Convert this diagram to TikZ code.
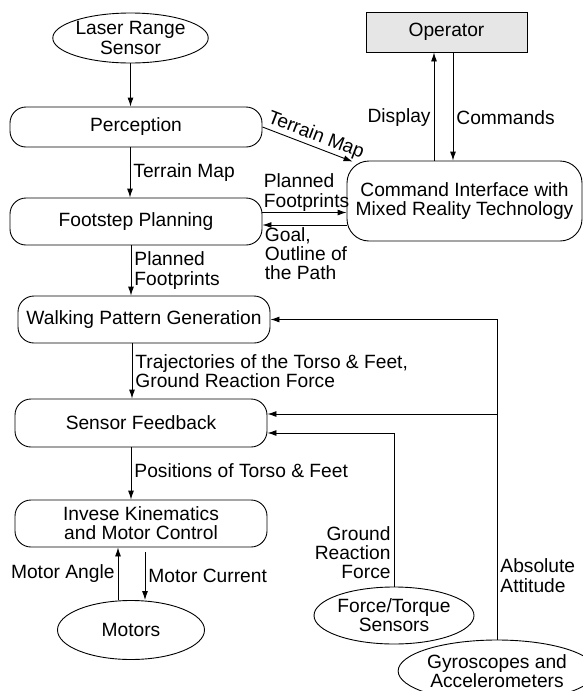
\documentclass[tikz,border=0pt]{standalone}
\usepackage{fontspec}
\setmainfont{Liberation Sans}
\usetikzlibrary{shapes.geometric,arrows.meta}
\definecolor{opgray}{RGB}{230,230,230}

\begin{document}
\begin{tikzpicture}[x=1pt,y=-1pt,>={Latex[length=9pt,width=6pt]},line width=0.9pt,
  font=\fontsize{19.2}{19.2}\selectfont]
\tikzstyle{proc}=[rectangle,draw,rounded corners=16pt,minimum width=252pt,inner sep=0pt,align=center]
\tikzstyle{src}=[ellipse,draw,inner sep=0pt,align=center]
\tikzstyle{oper}=[rectangle,draw,fill=opgray,minimum width=161pt,minimum height=40pt]
\tikzstyle{lbl}=[inner sep=3pt,align=left]

\useasboundingbox (0,0) rectangle (583,691);

\node[src,minimum width=147pt,minimum height=50pt] (laser) at (130.5,38) {Laser Range\\Sensor};
\node[proc,minimum height=40pt] (perception) at (136,127) {Perception};
\node[proc,minimum height=47pt] (footstep) at (136,221.5) {Footstep Planning};
\node[proc,minimum height=47pt] (walking) at (144,319.5) {Walking Pattern Generation};
\node[proc,minimum height=48pt] (feedback) at (141,423) {Sensor Feedback};
\node[proc,minimum height=47pt] (ik) at (141,523.5) {Invese Kinematics\\and Motor Control};
\node[src,minimum width=147pt,minimum height=59pt] (motors) at (131,630) {Motors};

\node[oper] (operator) at (446.5,32) {Operator};
\node[rectangle,draw,rounded corners=22pt,minimum width=235pt,minimum height=80pt,align=center] (interface) at (464.5,201)
  {Command Interface with\\Mixed Reality Technology};

\node[src,minimum width=148pt,minimum height=57pt] (ftSensor) at (394,615.5) {Force/Torque\\Sensors};
\node[src,minimum width=178pt,minimum height=62pt] (gyro) at (497,671) {Gyroscopes and\\Accelerometers};

% main chain
\draw[->] (laser.south) -- (laser.south |- perception.north);
\draw[->] ([xshift=-6pt]perception.south) -- ([xshift=-6pt]footstep.north)
  node[lbl,midway,right] {Terrain Map};
\draw[->] ([xshift=-5pt]footstep.south) -- ([xshift=-5pt]footstep.south |- walking.north)
  node[lbl,midway,right] {Planned\\Footprints};
\draw[->] ([xshift=-12pt]walking.south) -- ([xshift=-12pt]walking.south |- feedback.north)
  node[lbl,midway,right] {Trajectories of the Torso \& Feet,\\Ground Reaction Force};
\draw[->] ([xshift=-10pt]feedback.south) -- ([xshift=-10pt]ik.north)
  node[lbl,midway,right,yshift=3pt] {Positions of Torso \& Feet};
\draw[->] ([xshift=-13pt]motors.north) -- ([xshift=-13pt]motors.north |- ik.south)
  node[lbl,midway,left] {Motor Angle};
\draw[->] ([xshift=4pt,yshift=-5pt]ik.south) -- ([xshift=4pt]ik.south |- motors.north)
  node[lbl,midway,right] {Motor Current};

% operator side
\draw[->] (perception.east) -- ([xshift=6pt,yshift=-1pt]interface.north west)
  node[pos=0.55,above,sloped,inner sep=1.5pt] {Terrain Map};
\draw[->] ([yshift=9pt]footstep.east) -- ([yshift=9pt]footstep.east -| interface.west)
  node[lbl,pos=0,anchor=south west,inner sep=1pt] {Planned\\Footprints};
\draw[->] ([yshift=-3.5pt]footstep.east -| interface.west) -- ([yshift=-3.5pt]footstep.east)
  node[lbl,pos=1,anchor=north west,inner sep=2pt] {Goal,\\Outline of\\the Path};
\draw[->] ([xshift=-12.5pt]operator.south |- interface.north) -- ([xshift=-12.5pt]operator.south)
  node[lbl,pos=0.4,left] {Display};
\draw[->] ([xshift=6.5pt]operator.south) -- ([xshift=6.5pt]operator.south |- interface.north)
  node[lbl,pos=0.6,right] {Commands};

% feedback sensors
\draw[->] (ftSensor.north) |- ([yshift=-10pt]feedback.east)
  node[lbl,pos=0.11,left,align=right] {Ground\\Reaction\\Force};
\draw[->] (gyro.north) |- (walking.east)
  node[lbl,pos=0.1,right] {Absolute\\Attitude};
\draw[->] ([yshift=9pt]feedback.east -| gyro.north) -- ([yshift=9pt]feedback.east);

\end{tikzpicture}
\end{document}
